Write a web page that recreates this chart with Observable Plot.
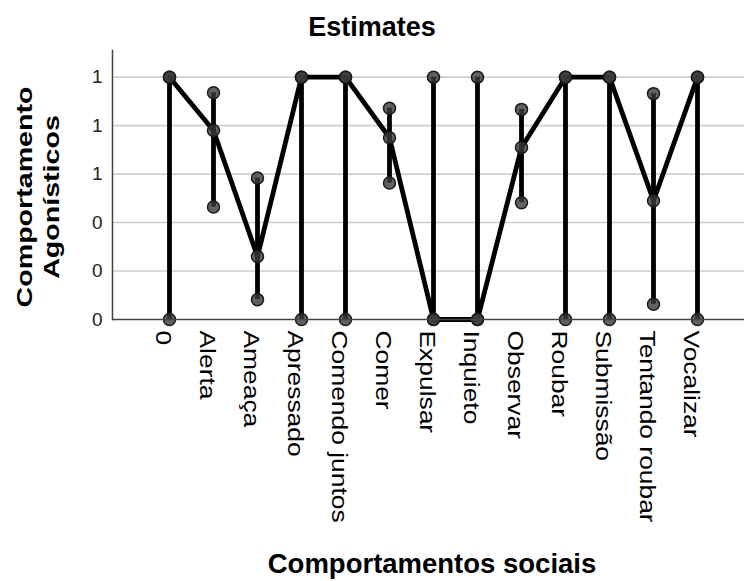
<!DOCTYPE html>
<html><head><meta charset="utf-8">
<script src="https://cdn.jsdelivr.net/npm/d3@7"></script>
<script src="https://cdn.jsdelivr.net/npm/@observablehq/plot@0.6"></script>
<style>
body{margin:0;background:#fff;font-family:"Liberation Sans",Arial,sans-serif;}
#wrap{position:relative;width:744px;height:581px;overflow:hidden;}
.lbl{position:absolute;font-weight:bold;color:#000;line-height:1;white-space:nowrap;}
#title{left:0;top:14px;width:744px;text-align:center;font-size:27px;}
#xlab{left:232px;top:550px;width:400px;text-align:center;font-size:27.5px;}
#ylab{left:38px;top:197px;font-size:22px;line-height:27px;text-align:center;transform:translate(-50%,-50%) rotate(-90deg) scaleX(1.3);}
</style></head>
<body><div id="wrap"><div id="chart"></div>
<div class="lbl" id="title">Estimates</div>
<div class="lbl" id="ylab">Comportamento<br>Agonísticos</div>
<div class="lbl" id="xlab">Comportamentos sociais</div>
</div>
<script>
const categories = ["0","Alerta","Ameaça","Apressado","Comendo juntos","Comer","Expulsar","Inquieto","Observar","Roubar","Submissão","Tentando roubar","Vocalizar"];
const means = [1, 0.78, 0.26, 1, 1, 0.75, 0, 0, 0.71, 1, 1, 0.49, 1];
const lower = [0, 0.464, 0.082, 0, 0, 0.563, 0, 0, 0.482, 0, 0, 0.063, 0];
const upper = [1, 0.936, 0.584, 1, 1, 0.872, 1, 1, 0.867, 1, 1, 0.932, 1];
const yTicks = [0, 0.2, 0.4, 0.6, 0.8, 1];

const rows = categories.map((c, i) => ({cat: c, mean: means[i], lo: lower[i], hi: upper[i]}));
const dots = rows.flatMap(r => [{cat: r.cat, v: r.lo}, {cat: r.cat, v: r.hi}, {cat: r.cat, v: r.mean}]);

const chart = Plot.plot({
  width: 744, height: 581,
  marginLeft: 112, marginRight: 0, marginTop: 50, marginBottom: 262,
  style: {fontFamily: "Liberation Sans, Arial, sans-serif", color: "#000", background: "#fff"},
  x: {type: "point", domain: categories, range: [167, 698], padding: 0},
  y: {domain: [0, 1.11]},
  marks: [
    Plot.ruleY(yTicks.slice(1), {stroke: "#cfcfcf", strokeWidth: 1.6}),
    Plot.ruleX(rows, {x: "cat", y1: "lo", y2: "hi", stroke: "#000", strokeWidth: 4.8}),
    Plot.line(rows, {x: "cat", y: "mean", stroke: "#000", strokeWidth: 4.8}),
    Plot.dot(dots, {x: "cat", y: "v", r: 6, fill: "#3a3a3a", fillOpacity: 0.8, stroke: "#1a1a1a", strokeWidth: 1.5}),
    Plot.ruleY([0], {stroke: "#444", strokeWidth: 1.5}),
    Plot.frame({anchor: "left", stroke: "#444", strokeWidth: 1.5}),
    Plot.axisY(yTicks, {tickSize: 0, tickPadding: 10, tickFormat: d3.format(".0f"), fontSize: 19, label: null}),
    Plot.axisX({tickRotate: 90, tickSize: 0, tickPadding: 11, fontSize: 22, label: null})
  ]
});
document.getElementById("chart").appendChild(chart);
chart.querySelectorAll('g[aria-label="y-axis tick label"]').forEach(g => { g.setAttribute("font-size", "19"); g.style.fontSize = "19px"; g.setAttribute("fill", "#222"); });
chart.querySelectorAll('g[aria-label="x-axis tick label"]').forEach(g => { g.setAttribute("font-size", "22"); g.style.fontSize = "22px"; });
chart.querySelectorAll('g[aria-label="x-axis tick label"] text').forEach(t => {
  const tr = t.getAttribute("transform") || "";
  t.setAttribute("transform", tr + " translate(0,6) scale(1.2,1)");
});
</script>
</body></html>
